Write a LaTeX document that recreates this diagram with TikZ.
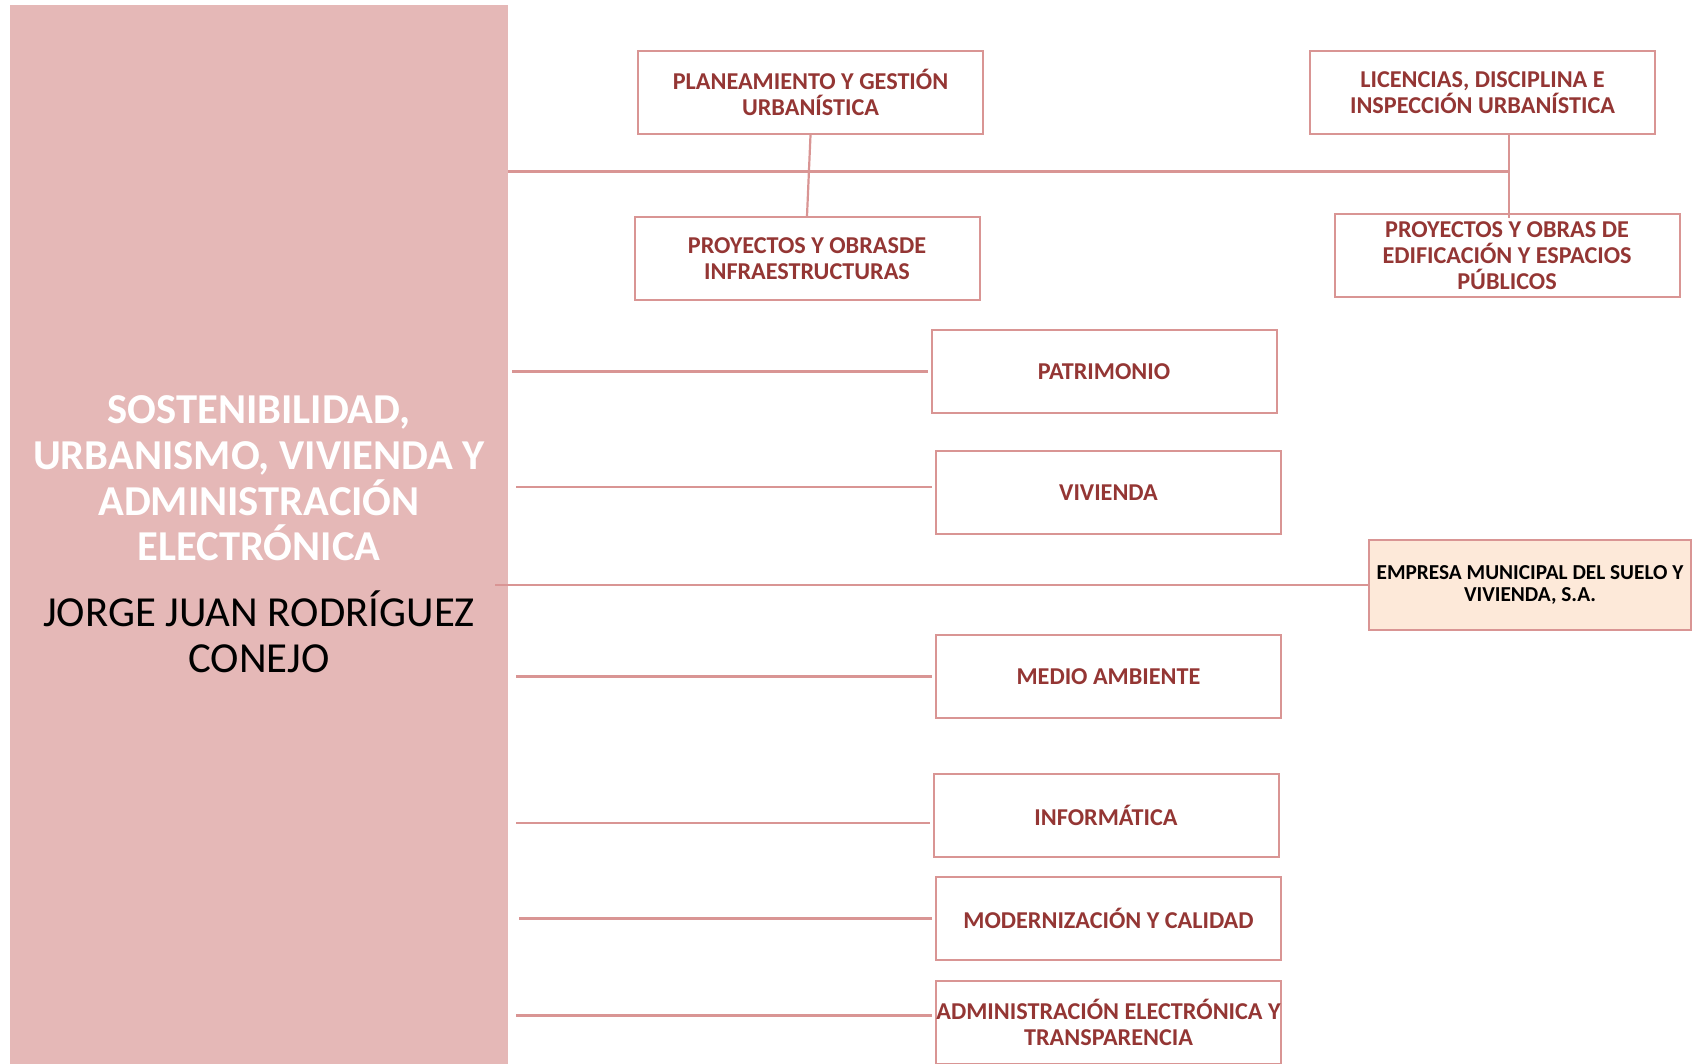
\documentclass[tikz,border=0pt]{standalone}
\usepackage{fontspec}
\setmainfont{Carlito}
\definecolor{panelfill}{HTML}{E5B8B7}
\definecolor{edge}{HTML}{D99594}
\definecolor{txt}{HTML}{943634}
\definecolor{peach}{HTML}{FDE9D9}
\begin{document}
\begin{tikzpicture}[x=1pt,y=-1pt,
  box/.style={draw=edge, line width=2pt, fill=white, minimum width=345pt, minimum height=83pt,
    inner sep=0pt, align=center, text=txt, font=\fontsize{24.2}{26}\selectfont\bfseries},
  link/.style={draw=edge, line width=2.2pt}]
\useasboundingbox (0,0) rectangle (1692,1064);
\node[fill=panelfill, minimum width=498pt, minimum height=1059pt, anchor=north west, inner sep=0pt] (panel) at (10,5) {};
\node[text=white, align=center, font=\fontsize{42.6}{45.6}\selectfont\bfseries] (title) at (259,478.5)
  {SOSTENIBILIDAD,\\URBANISMO, VIVIENDA Y\\ADMINISTRACIÓN\\ELECTRÓNICA};
\node[text=black, align=center, font=\fontsize{42.8}{45.6}\selectfont] (name) at (259,632)
  {JORGE JUAN RODRÍGUEZ\\CONEJO};

\node[box] (plan) at (810.5,92.5) {PLANEAMIENTO Y GESTIÓN\\URBANÍSTICA};
\node[box] (lic) at (1482.5,92.5) {LICENCIAS, DISCIPLINA E\\INSPECCIÓN URBANÍSTICA};
\node[box] (proy1) at (807,258.5) {PROYECTOS Y OBRASDE\\INFRAESTRUCTURAS};
\node[box] (proy2) at (1507,255.5) {PROYECTOS Y OBRAS DE\\EDIFICACIÓN Y ESPACIOS\\PÚBLICOS};

\node[box] (patr) at (1104,371.5) {PATRIMONIO};
\node[box] (viv) at (1108.5,492.5) {VIVIENDA};
\node[box, fill=peach, minimum width=322pt, minimum height=90pt, text=black,
  font=\fontsize{21.3}{22.7}\selectfont\bfseries] (emp) at (1530,585) {EMPRESA MUNICIPAL DEL SUELO Y\\VIVIENDA, S.A.};
\node[box] (medio) at (1108.5,676.5) {MEDIO AMBIENTE};
\node[box] (info) at (1106,815.5) {INFORMÁTICA};
\node[box] (modern) at (1108.5,918.5) {MODERNIZACIÓN Y CALIDAD};
\node[box] (admin) at (1108.5,1022) {ADMINISTRACIÓN ELECTRÓNICA Y\\TRANSPARENCIA};

\coordinate (hub) at (1509,171.6);
\draw[link] (panel.east |- hub) -- (hub);
\draw[link] (plan.south) -- (proy1.north);
\draw[link] (lic.south -| hub) -- ([yshift=-5pt]proy2.north -| hub);

\foreach \b/\s/\dy in {patr/4/0, viv/8/5.5, medio/8/0, info/8/-7.5, modern/11/0, admin/8/6.5}{
  \coordinate (p\b) at ([yshift=\dy pt]\b.west);
  \draw[link, shorten >=\s pt, shorten <=3pt] (p\b) -- (panel.east |- p\b);
}
\draw[link, shorten >=-13pt] (emp.west) -- (panel.east |- emp.west);
\end{tikzpicture}
\end{document}
